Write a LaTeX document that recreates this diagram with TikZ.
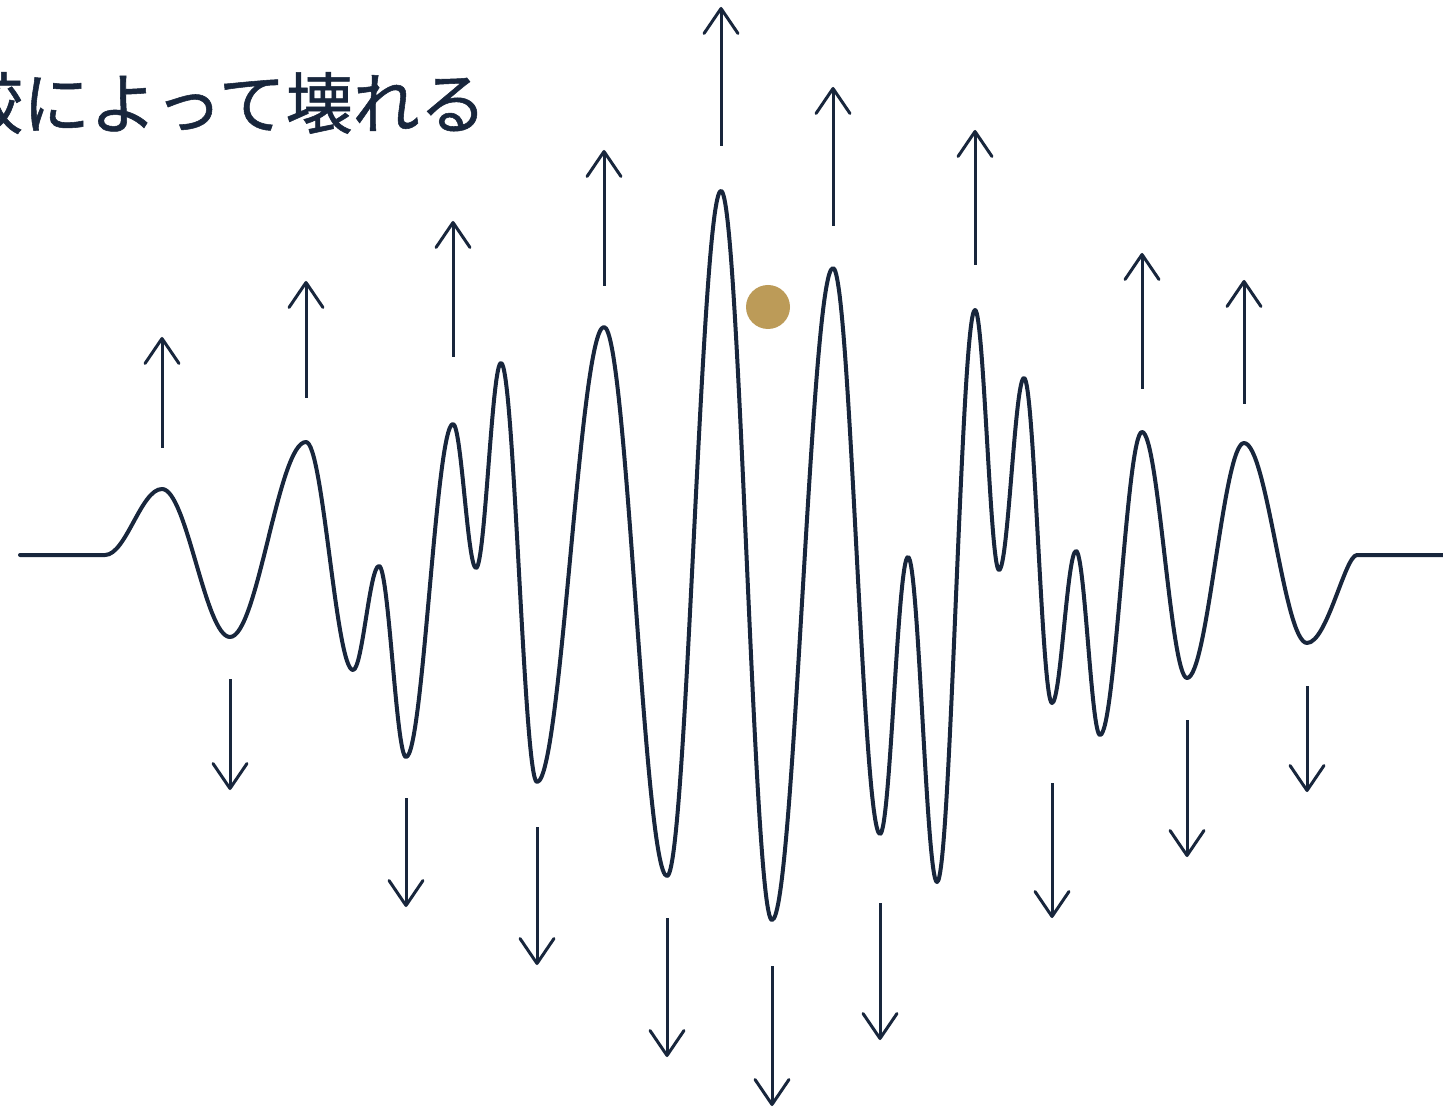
\documentclass[tikz,border=0pt]{standalone}
\usepackage{fontspec}
\newfontfamily\jpfont[FakeBold=0.8]{Noto Sans CJK JP}
\usetikzlibrary{arrows.meta}
\definecolor{navy}{RGB}{24,38,60}
\definecolor{gold}{RGB}{188,155,88}
\tikzset{
  wave/.style={draw=navy, line width=2pt, line join=round, line cap=round},
  forcearrow/.style={draw=navy, line width=1.5pt, -{Straight Barb[length=12.5pt,width=17pt,line cap=round,line join=round]}},
  title/.style={text=navy, font=\jpfont\fontsize{33.5pt}{38pt}\selectfont, inner sep=0pt}
}
\begin{document}
\begin{tikzpicture}[x=0.5pt,y=-0.5pt]
\useasboundingbox (0,0) rectangle (1443,1111);
\fill[white] (0,0) rectangle (1443,1111);
\clip (0,0) rectangle (1443,1111);

\node[title, anchor=east] (caption) at (487,103) {較によって壊れる};

% waveform
\draw[wave] (20,555) -- (105,555)
  .. controls +(21,0) and +(-21,0) .. (162,489)
  .. controls +(24.7,0) and +(-24.7,0) .. (230,637)
  .. controls +(27.6,0) and +(-27.6,0) .. (306,442)
  .. controls +(17.1,0) and +(-17.1,0) .. (353,670)
  .. controls +(9.4,0) and +(-9.4,0) .. (379,566)
  .. controls +(9.8,0) and +(-9.8,0) .. (406,757)
  .. controls +(17.1,0) and +(-17.1,0) .. (453,424)
  .. controls +(8.4,0) and +(-8.4,0) .. (476,568)
  .. controls +(9.1,0) and +(-9.1,0) .. (501,363)
  .. controls +(13.1,0) and +(-13.1,0) .. (537,782)
  .. controls +(24.3,0) and +(-24.3,0) .. (604,327)
  .. controls +(22.9,0) and +(-22.9,0) .. (667,876)
  .. controls +(19.6,0) and +(-19.6,0) .. (721,191)
  .. controls +(18.5,0) and +(-18.5,0) .. (772,920)
  .. controls +(22.2,0) and +(-22.2,0) .. (833,268)
  .. controls +(17.1,0) and +(-17.1,0) .. (880,834)
  .. controls +(10.2,0) and +(-10.2,0) .. (908,557)
  .. controls +(10.5,0) and +(-10.5,0) .. (937,882)
  .. controls +(13.8,0) and +(-13.8,0) .. (975,310)
  .. controls +(8.7,0) and +(-8.7,0) .. (999,570)
  .. controls +(9.1,0) and +(-9.1,0) .. (1024,378)
  .. controls +(10.2,0) and +(-10.2,0) .. (1052,703)
  .. controls +(8.7,0) and +(-8.7,0) .. (1076,551)
  .. controls +(8.7,0) and +(-8.7,0) .. (1100,735)
  .. controls +(15.3,0) and +(-15.3,0) .. (1142,432)
  .. controls +(16.4,0) and +(-16.4,0) .. (1187,678)
  .. controls +(20.7,0) and +(-20.7,0) .. (1244,443)
  .. controls +(22.9,0) and +(-22.9,0) .. (1307,643)
  .. controls +(20,0) and +(-12,0) .. (1357,555)
  -- (1445,555);

% gold dot
\fill[gold] (768,307) circle[radius=22];

% upward arrows
\foreach \i/\x/\a/\b in {1/162/448/337, 2/306/398/281, 3/453/357/221, 4/604/286/150,
  5/721/146/7, 6/833/226/87, 7/975/265/130, 8/1142/389/253, 9/1244/404/280}{
  \coordinate (up\i s) at (\x,\a);
  \coordinate (up\i e) at (\x,\b);
  \draw[forcearrow] (up\i s) -- (up\i e);
}
% downward arrows
\foreach \i/\x/\a/\b in {1/230/679/790, 2/406/798/907, 3/537/827/965, 4/667/918/1057,
  5/772/966/1106, 6/880/903/1040, 7/1052/783/918, 8/1187/720/857, 9/1307/686/792}{
  \coordinate (dn\i s) at (\x,\a);
  \coordinate (dn\i e) at (\x,\b);
  \draw[forcearrow] (dn\i s) -- (dn\i e);
}
\end{tikzpicture}
\end{document}
